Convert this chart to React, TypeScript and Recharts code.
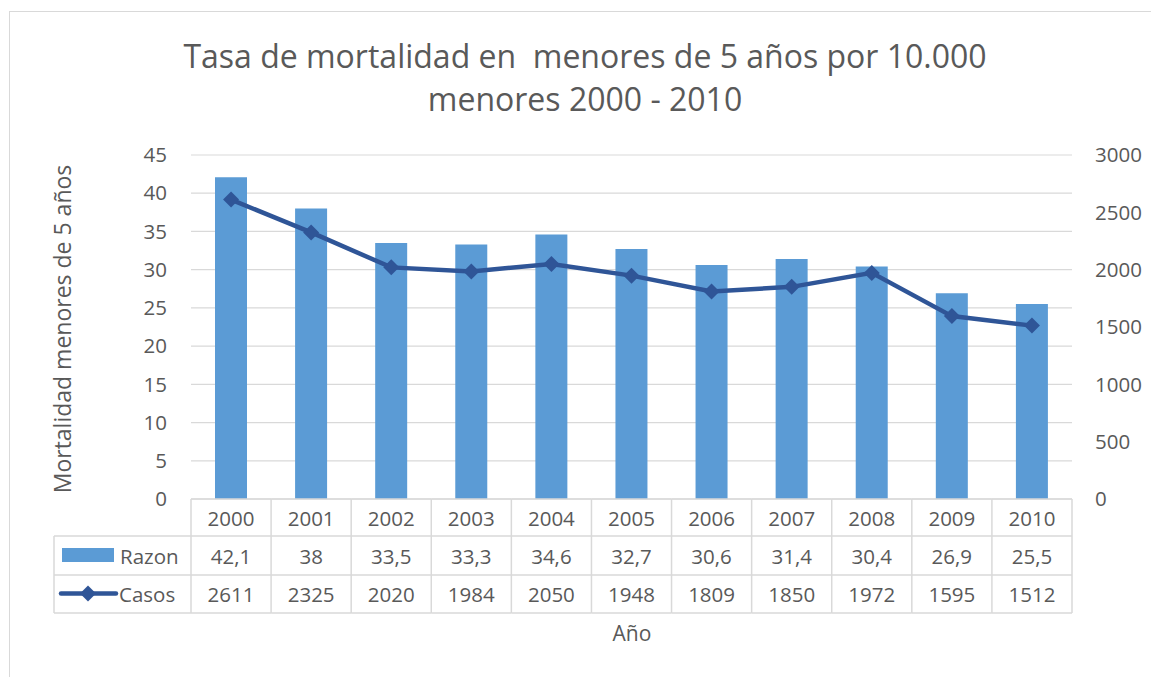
import React from "react";
import { ComposedChart, Bar, Line, XAxis, YAxis, CartesianGrid } from "recharts";

const years = ["2000", "2001", "2002", "2003", "2004", "2005", "2006", "2007", "2008", "2009", "2010"];
const razon = [42.1, 38, 33.5, 33.3, 34.6, 32.7, 30.6, 31.4, 30.4, 26.9, 25.5];
const casos = [2611, 2325, 2020, 1984, 2050, 1948, 1809, 1850, 1972, 1595, 1512];
const leftTicks = [0, 5, 10, 15, 20, 25, 30, 35, 40, 45];
const rightTicks = [0, 500, 1000, 1500, 2000, 2500, 3000];

const data = years.map((year, i) => ({ year, razon: razon[i], casos: casos[i] }));

const W = 1151;
const H = 677;
const PLOT_L = 191;
const PLOT_R = 1072;
const PLOT_T = 155;
const PLOT_B = 499;
const BW = (PLOT_R - PLOT_L) / years.length;
const TABLE_L = 54;
const ROWS = [0, 37, 76, 114];

const BAR_COLOR = "#5B9BD5";
const LINE_COLOR = "#2F5597";
const GRID = "#d9d9d9";
const TEXT = "#595959";
const FONT = "'Open Sans', sans-serif";
const FS = 20.5;

const fmt = (v: number) => String(v).replace(".", ",");

const diamond = (cx: number, cy: number, r: number) =>
  `M${cx},${cy - r} L${cx + r},${cy} L${cx},${cy + r} L${cx - r},${cy} Z`;

const Diamond = (props: any) => {
  const { cx, cy } = props;
  if (cx == null || cy == null) return null;
  return <path d={diamond(cx, cy, 8)} fill={LINE_COLOR} />;
};

// x axis ticks draw the data table columns
const TableTick = (props: any) => {
  const { x, y, payload } = props;
  const i = years.indexOf(String(payload.value));
  const left = x - BW / 2;
  const right = x + BW / 2;
  const txt = { fill: TEXT, fontSize: FS, fontFamily: FONT, textAnchor: "middle" as const, dominantBaseline: "central" as const };
  return (
    <g>
      {ROWS.map((r) => (
        <line key={r} x1={left} x2={right} y1={y + r} y2={y + r} stroke={GRID} strokeWidth={1.5} />
      ))}
      <line x1={left} x2={left} y1={y} y2={y + 114} stroke={GRID} strokeWidth={1.5} />
      {i === years.length - 1 && <line x1={right} x2={right} y1={y} y2={y + 114} stroke={GRID} strokeWidth={1.5} />}
      <text x={x} y={y + 18.5} {...txt}>{payload.value}</text>
      <text x={x} y={y + 56.5} {...txt}>{fmt(razon[i])}</text>
      <text x={x} y={y + 95} {...txt}>{casos[i]}</text>
      {i === 0 && (
        <g>
          {ROWS.slice(1).map((r) => (
            <line key={r} x1={TABLE_L} x2={left} y1={y + r} y2={y + r} stroke={GRID} strokeWidth={1.5} />
          ))}
          <line x1={TABLE_L} x2={TABLE_L} y1={y + 37} y2={y + 114} stroke={GRID} strokeWidth={1.5} />
          <rect x={62} y={y + 49} width={52} height={14} fill={BAR_COLOR} />
          <text x={120} y={y + 56.5} fill={TEXT} fontSize={FS} fontFamily={FONT} dominantBaseline="central">Razon</text>
          <line x1={61} x2={116} y1={y + 94.5} y2={y + 94.5} stroke={LINE_COLOR} strokeWidth={4.5} strokeLinecap="round" />
          <path d={diamond(88, y + 94.5, 8)} fill={LINE_COLOR} />
          <text x={119} y={y + 95} fill={TEXT} fontSize={FS} fontFamily={FONT} dominantBaseline="central">Casos</text>
        </g>
      )}
    </g>
  );
};

export default function App() {
  const tick = { fill: TEXT, fontSize: FS, fontFamily: FONT };
  return (
    <div style={{ position: "absolute", left: 0, top: 0, width: W, height: H, overflow: "hidden", background: "#fff" }}>
      <div style={{ position: "absolute", left: 9, top: 11, width: 1200, height: 700, border: `1px solid ${GRID}` }} />
      <div style={{ position: "absolute", left: 0, top: 0 }}>
        <ComposedChart
          width={W}
          height={H}
          data={data}
          margin={{ top: PLOT_T, right: W - PLOT_R - 60, left: PLOT_L - 60, bottom: H - PLOT_B - 120 }}
        >
          <CartesianGrid vertical={false} stroke={GRID} strokeWidth={1.2} yAxisId="left" />
          <XAxis
            dataKey="year"
            height={120}
            axisLine={false}
            tickLine={false}
            tickSize={0}
            tickMargin={0}
            interval={0}
            tick={<TableTick />}
          />
          <YAxis
            yAxisId="left"
            width={60}
            domain={[0, 45]}
            ticks={leftTicks}
            axisLine={false}
            tickLine={false}
            tickSize={0}
            tickMargin={24}
            tick={tick}
          />
          <YAxis
            yAxisId="right"
            orientation="right"
            width={60}
            domain={[0, 3000]}
            ticks={rightTicks}
            axisLine={false}
            tickLine={false}
            tickSize={0}
            tickMargin={23}
            tick={tick}
          />
          <Bar yAxisId="left" dataKey="razon" fill={BAR_COLOR} barSize={32} isAnimationActive={false} />
          <Line
            yAxisId="right"
            dataKey="casos"
            stroke={LINE_COLOR}
            strokeWidth={4.5}
            dot={<Diamond />}
            activeDot={false}
            isAnimationActive={false}
          />
        </ComposedChart>
      </div>
      <svg width={W} height={H} style={{ position: "absolute", left: 0, top: 0, pointerEvents: "none" }}>
        <g fill={TEXT} fontFamily={FONT} textAnchor="middle">
          <text x={585} y={68} fontSize={32} style={{ whiteSpace: "pre" }}>
            Tasa de mortalidad en  menores de 5 años por 10.000
          </text>
          <text x={585} y={111} fontSize={32}>menores 2000 - 2010</text>
          <text x={62} y={329} fontSize={23} dominantBaseline="central" transform="rotate(-90 62 329)">
            Mortalidad menores de 5 años
          </text>
          <text x={632} y={641} fontSize={21}>Año</text>
        </g>
      </svg>
    </div>
  );
}
